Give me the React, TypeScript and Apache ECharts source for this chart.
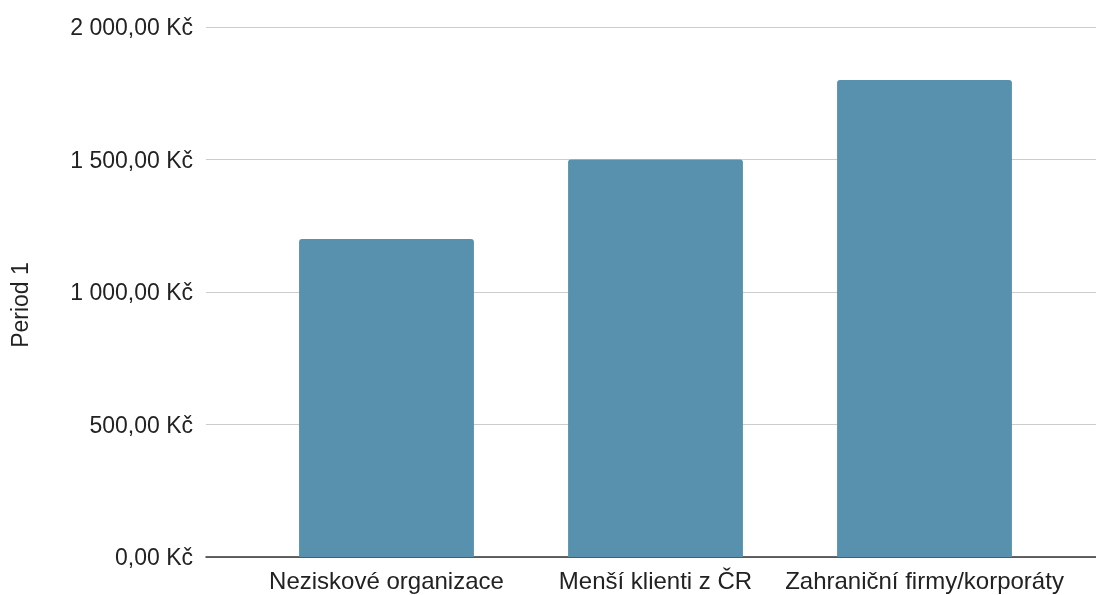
import React, { useEffect, useRef } from "react";
import * as echarts from "echarts";

const categories = ["Neziskové organizace", "Menší klienti z ČR", "Zahraniční firmy/korporáty"];
const period1 = [1200, 1500, 1800];
const yTicks = { min: 0, max: 2000, interval: 500 };
const seriesName = "Period 1";

const fmt = (v: number) => {
  const [i, d] = v.toFixed(2).split(".");
  const withSpaces = i.replace(/\B(?=(\d{3})+(?!\d))/g, " ");
  return `${withSpaces},${d} Kč`;
};

export default function App() {
  const ref = useRef<HTMLDivElement>(null);
  useEffect(() => {
    if (!ref.current) return;
    const chart = echarts.init(ref.current, undefined, { renderer: "svg" });
    const font = "'Liberation Sans', Arial, sans-serif";
    chart.setOption({
      animation: false,
      textStyle: { fontFamily: font },
      grid: [
        { left: 252, right: 37, top: 27, bottom: 38 },
        { left: 205, right: 0, top: 27, bottom: 38 },
      ],
      xAxis: [
        {
          type: "category",
          gridIndex: 0,
          data: categories,
          axisLine: { show: false },
          axisTick: { show: false },
          axisLabel: { color: "#222", fontSize: 24, margin: 11, interval: 0, fontFamily: font },
        },
        {
          type: "value",
          gridIndex: 1,
          min: 0,
          max: 1,
          axisLine: { show: true, onZero: false, lineStyle: { color: "#333", width: 1.5 } },
          axisTick: { show: false },
          axisLabel: { show: false },
          splitLine: { show: false },
        },
      ],
      yAxis: [
        {
          type: "value",
          gridIndex: 0,
          ...yTicks,
          axisLine: { show: false },
          axisTick: { show: false },
          axisLabel: { show: false },
          splitLine: { show: false },
        },
        {
          type: "value",
          gridIndex: 1,
          ...yTicks,
          name: seriesName,
          nameLocation: "middle",
          nameGap: 175,
          nameTextStyle: { color: "#222", fontSize: 23, fontFamily: font, padding: [0, 26, 0, 0] },
          axisLine: { show: false },
          axisTick: { show: false },
          axisLabel: { color: "#222", fontSize: 23, margin: 13, formatter: fmt, fontFamily: font },
          splitLine: { show: true, lineStyle: { color: "#cccccc", width: 1 } },
        },
      ],
      series: [
        {
          type: "bar",
          name: seriesName,
          xAxisIndex: 0,
          yAxisIndex: 0,
          data: period1,
          barCategoryGap: "35%",
          itemStyle: { color: "#5891ad", borderRadius: [3, 3, 0, 0] },
          z: 3,
        },
      ],
    });
    return () => chart.dispose();
  }, []);
  return <div ref={ref} style={{ position: "fixed", left: 0, top: 0, width: 1096, height: 595 }} />;
}
